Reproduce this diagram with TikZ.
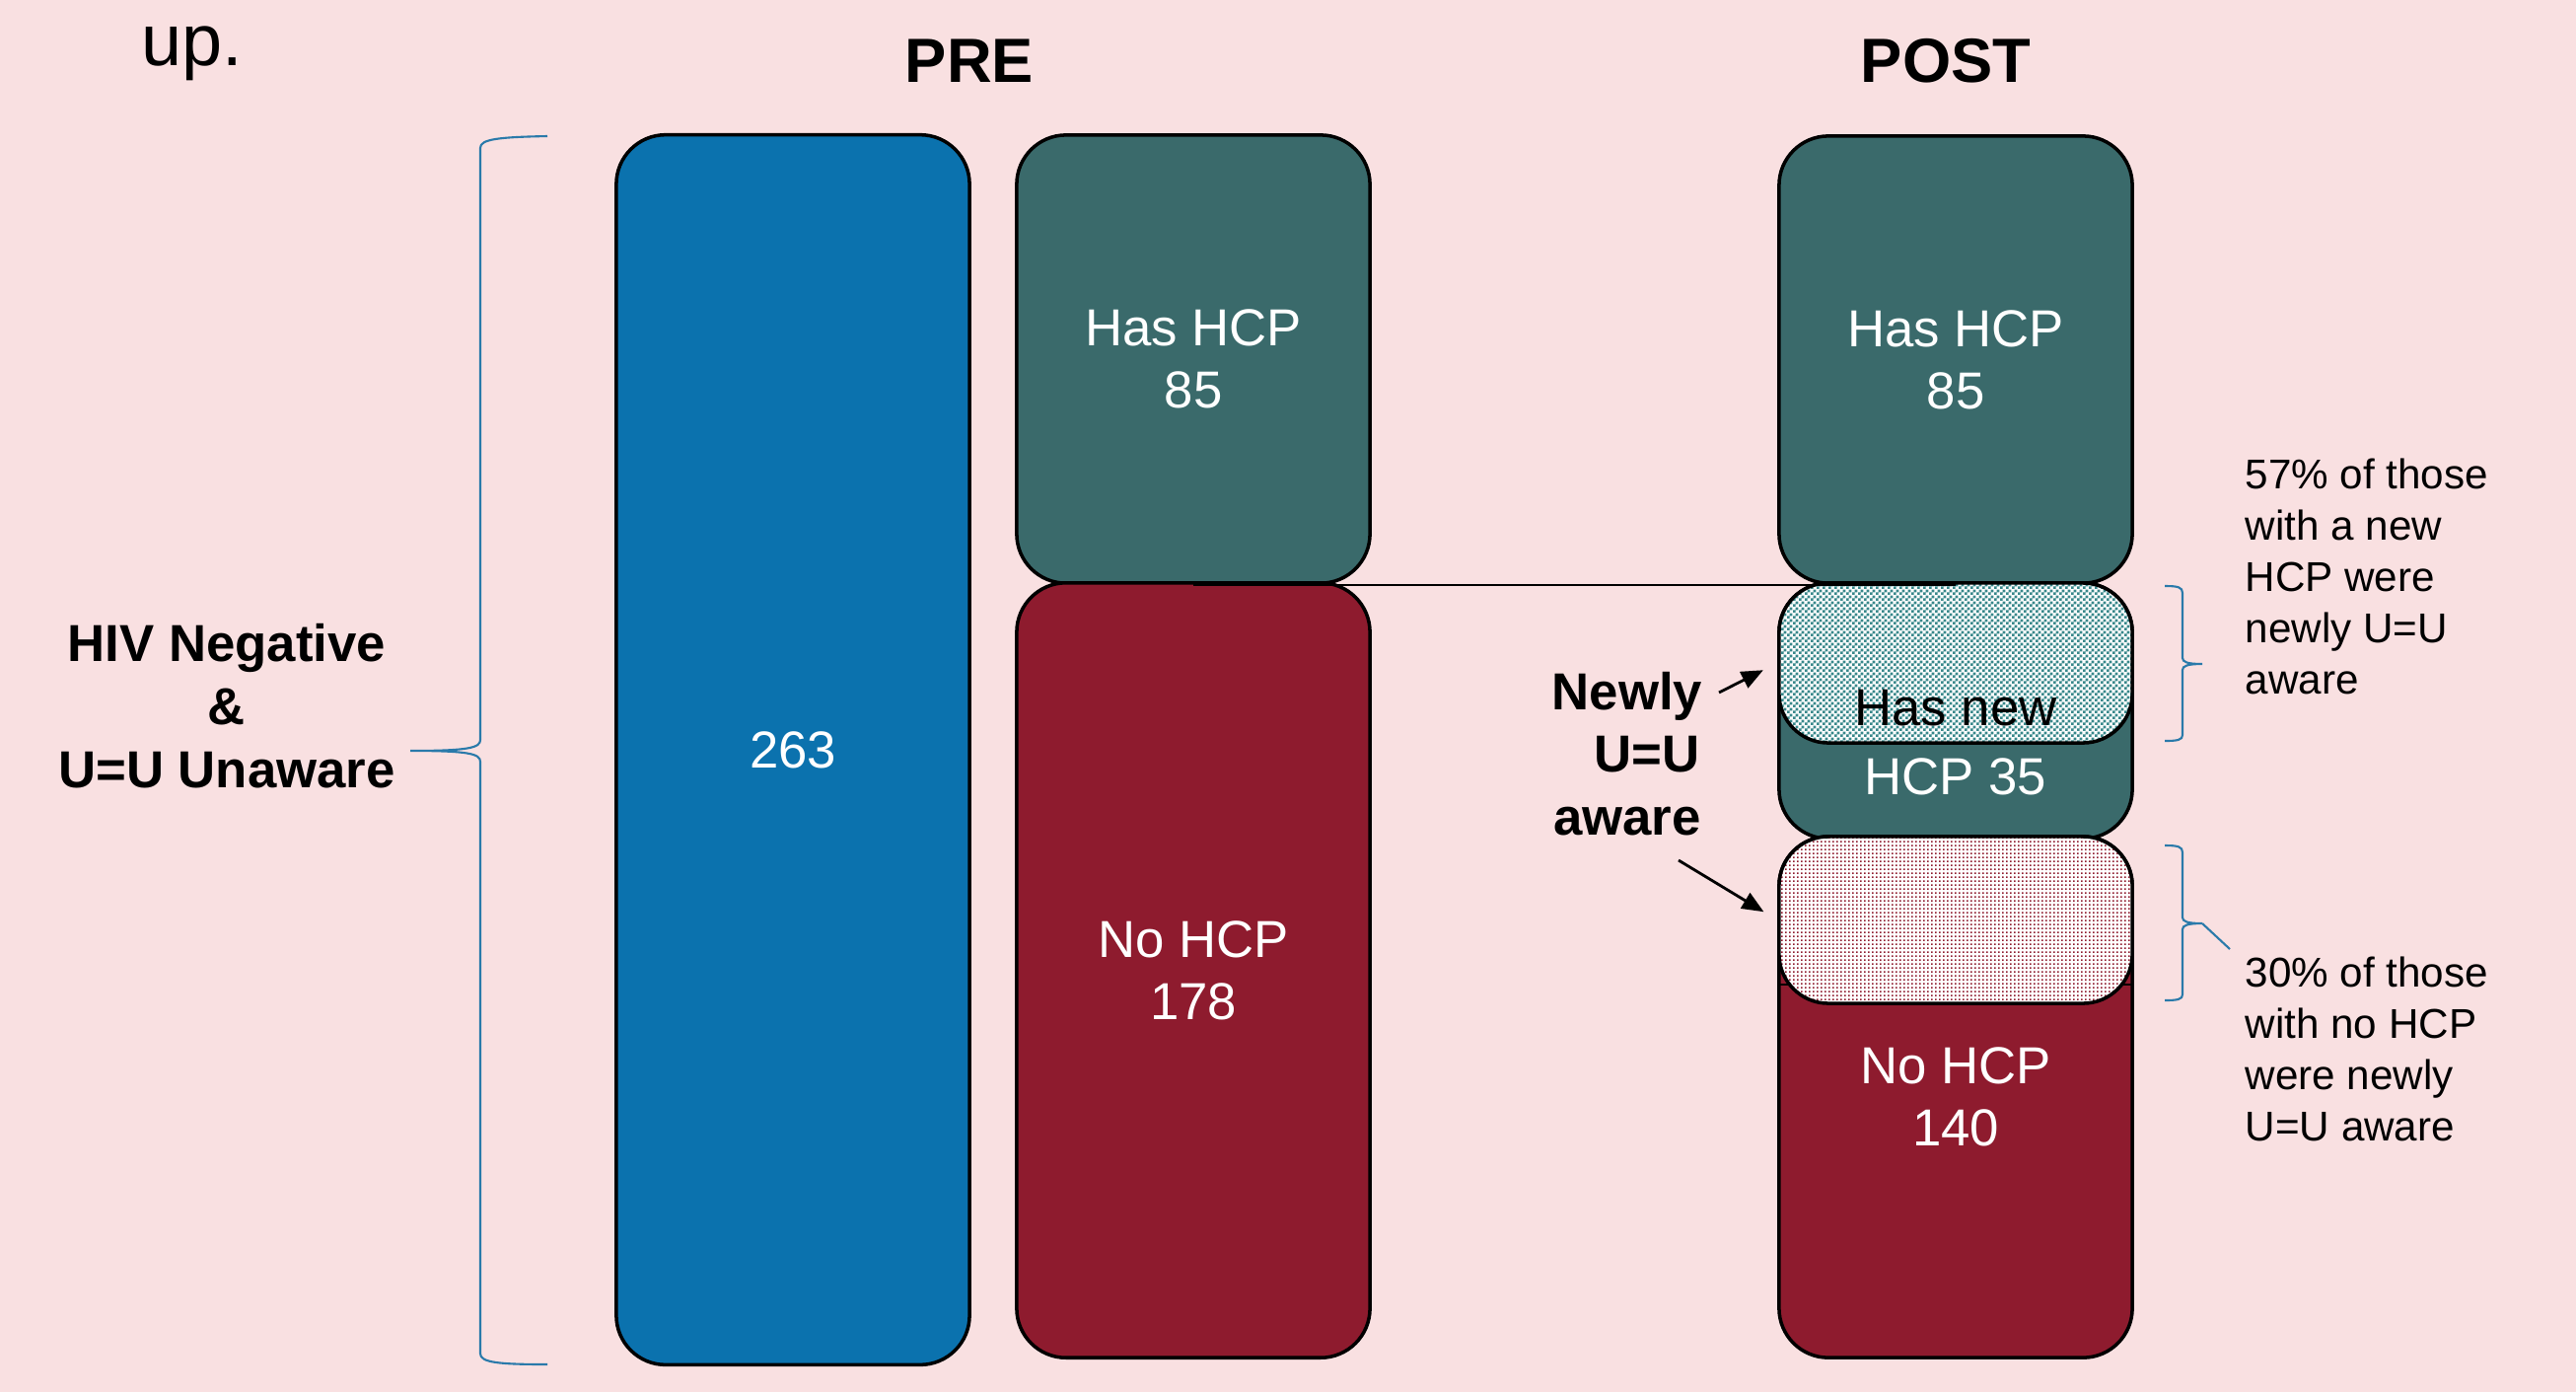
\documentclass[tikz,border=0pt]{standalone}
\usepackage{fontspec}
\setmainfont{Liberation Sans}
\usetikzlibrary{arrows.meta,patterns.meta}

\definecolor{bgpink}{RGB}{249,224,225}
\definecolor{barblue}{RGB}{11,114,174}
\definecolor{hcpteal}{RGB}{58,106,107}
\definecolor{checkteal}{RGB}{55,135,138}
\definecolor{nohcpred}{RGB}{142,27,46}
\definecolor{braceblue}{RGB}{42,122,170}

% fine fills for the newly aware parts
\pgfdeclarepattern{
	name=finechecker, type=uncolored,
	bottom left={\pgfpoint{0pt}{0pt}}, top right={\pgfpoint{1.6pt}{1.6pt}},
	tile size={\pgfpoint{1.6pt}{1.6pt}},
	code={
		\pgfpathrectangle{\pgfpoint{0pt}{0pt}}{\pgfpoint{0.8pt}{0.8pt}}
		\pgfpathrectangle{\pgfpoint{0.8pt}{0.8pt}}{\pgfpoint{0.8pt}{0.8pt}}
		\pgfusepath{fill}
	}
}
\pgfdeclarepattern{
	name=finedots, type=uncolored,
	bottom left={\pgfpoint{0pt}{0pt}}, top right={\pgfpoint{1.1pt}{1pt}},
	tile size={\pgfpoint{1.1pt}{1pt}},
	code={
		\pgfpathrectangle{\pgfpoint{0pt}{0pt}}{\pgfpoint{0.45pt}{0.5pt}}
		\pgfusepath{fill}
	}
}

\begin{document}
\begin{tikzpicture}[x=0.01cm, y=-0.01cm,
	bar/.style={draw=black, line width=1pt, rounded corners=5mm, minimum width=3.58cm, inner sep=0pt, text=white, align=center, font=\fontsize{15}{18}\selectfont},
	title/.style={anchor=base, font=\fontsize{18}{20}\selectfont\bfseries},
	note/.style={anchor=north west, inner sep=0pt, align=left, font=\fontsize{12}{14.8}\selectfont},
	brace/.style={braceblue, line width=0.6pt},
	pointer/.style={-{Triangle[length=2.2mm,width=1.8mm]}, line width=0.8pt, shorten >=1.6mm}]
	\fill[bgpink] (0,0) rectangle (2612,1411);
	
	\node[anchor=base west, inner sep=0pt, font=\fontsize{21}{24}\selectfont] (upword) at (143,66) {up.};
	\node[title] (pre) at (983,83) {PRE};
	\node[title] (post) at (1973,83) {POST};
	
	\node[bar, fill=barblue, minimum height=12.46cm] (total) at (804,760) {263};
	\node[bar, fill=hcpteal, minimum height=4.54cm] (prehas) at (1210,364) {Has HCP\\85};
	\node[bar, fill=nohcpred, minimum height=7.85cm] (prenone) at (1210,983.5) {No HCP\\178};
	
	\node[bar, fill=hcpteal, minimum height=4.53cm] (posthas) at (1983,364.5) {Has HCP\\85};
	\node[bar, fill=hcpteal, minimum height=2.59cm] (postnew) at (1983,720.5) {};
	\node[bar, fill=nohcpred, minimum height=5.28cm] (postnone) at (1983,1112) {No HCP\\140};
	\draw[line width=0.6pt] ([yshift=-15.2mm]postnone.north west) -- ([yshift=-15.2mm]postnone.north east);
	\node[bar, pattern=finechecker, pattern color=checkteal, preaction={fill=white}, minimum height=1.62cm] (newteal) at (1983,672) {};
	\node[bar, pattern=finedots, pattern color=nohcpred, preaction={fill=white}, minimum height=1.69cm] (newred) at (1983,932.5) {};
	\node[anchor=base, font=\fontsize{15}{18}\selectfont] (hasnew) at (1983,735) {Has new};
	\node[anchor=base, text=white, font=\fontsize{15}{18}\selectfont] (hcpnum) at (1983,805) {HCP 35};
	
	\draw[line width=0.6pt] (prehas.south) -- (posthas.south);
	
	\node[inner sep=0pt, align=center, font=\fontsize{15}{18.2}\selectfont\bfseries] (cohort) at (230,716) {HIV Negative\\\&\\U=U Unaware};
	\draw[brace] (555,138) .. controls (505,139) and (487,141) .. (487,150) -- (487,750) .. controls (487,758) and (475,761) .. (416,761) .. controls (475,761) and (487,764) .. (487,772) -- (487,1372) .. controls (487,1381) and (505,1383) .. (555,1383);
	
	\node[inner sep=0pt, align=center, font=\fontsize{15}{18}\selectfont\bfseries] (newly) at (1650,764) {Newly\\\hspace*{0.75em}U=U\\aware};
	\coordinate (newlytop) at (1743,702);
	\coordinate (newlylow) at (1702,872);
	\draw[pointer] (newlytop) -- (newteal.west);
	\draw[pointer] (newlylow) -- (newred.west);
	
	\node[note] (hcpnote) at (2276,464) {57\% of those\\with a new\\HCP were\\newly U=U\\aware};
	\node[note] (nonenote) at (2276,969) {30\% of those\\with no HCP\\were newly\\U=U aware};
	\draw[brace] (2195,594) .. controls (2208,594) and (2213,595) .. (2213,601) -- (2213,667) .. controls (2213,671) and (2218,673) .. (2233,673) .. controls (2218,673) and (2213,675) .. (2213,679) -- (2213,745) .. controls (2213,750) and (2208,751) .. (2195,751);
	\draw[brace] (2195,857) .. controls (2208,857) and (2213,858) .. (2213,864) -- (2213,930) .. controls (2213,934) and (2218,936) .. (2233,936) .. controls (2218,936) and (2213,938) .. (2213,942) -- (2213,1008) .. controls (2213,1013) and (2208,1014) .. (2195,1014);
	\coordinate (bracetip) at (2233,936);
	\coordinate (noteend) at (2261,962);
	\draw[brace] (bracetip) -- (noteend);
\end{tikzpicture}
\end{document}
